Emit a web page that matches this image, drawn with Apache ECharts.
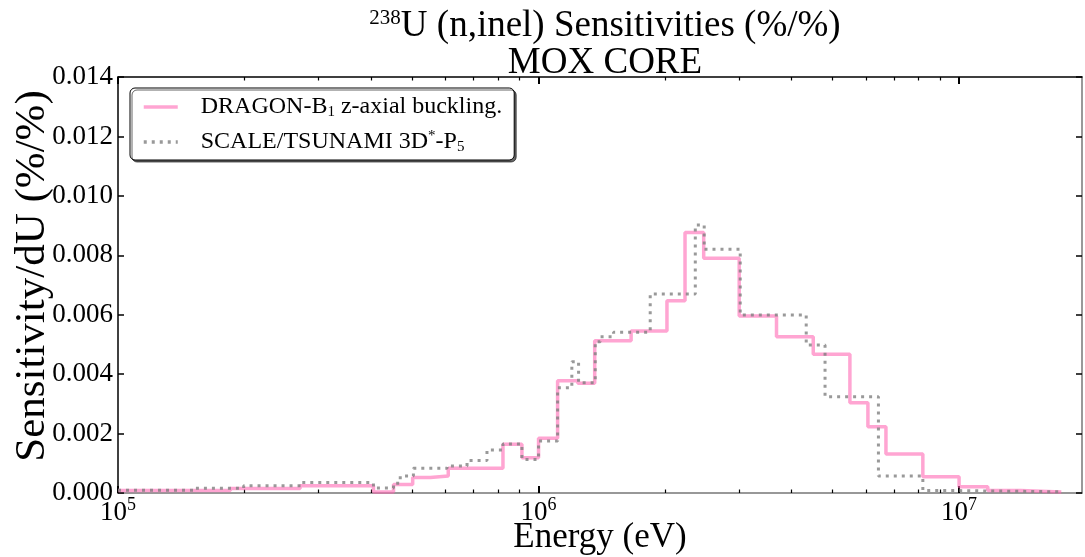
<!DOCTYPE html>
<html>
<head>
<meta charset="utf-8">
<script src="https://cdn.jsdelivr.net/npm/echarts@6/dist/echarts.min.js"></script>
<style>
html,body{margin:0;padding:0;background:#fff;}
#c{width:1085px;height:557px;}
</style>
</head>
<body>
<div id="c"></div>
<script>
// ---- data (energy group edges in eV, sensitivities per unit lethargy) ----
const dragonEdges = [1e5, 1.85e5, 2.71e5, 4.05e5, 4.52e5, 5.02e5, 5.53e5, 6.1e5, 8.23e5, 9.13e5,
  1.0e6, 1.11e6, 1.24e6, 1.36e6, 1.66e6, 2.02e6, 2.23e6, 2.47e6, 3.0e6, 3.68e6,
  4.5e6, 5.5e6, 6.07e6, 6.7e6, 8.2e6, 1.0e7, 1.17e7, 1.4e7, 1.75e7];
const dragonValues = [0.00008, 0.00015, 0.00024, 0.00003, 0.00029, 0.00052, 0.00057, 0.00083, 0.00164, 0.00119,
  0.00184, 0.00378, 0.00369, 0.00512, 0.00545, 0.00647, 0.00877, 0.0079, 0.00596, 0.00526,
  0.00467, 0.00304, 0.00223, 0.00131, 0.00055, 0.00021, 0.00008, 0.00003];

const scaleEdges = [1e5, 1.51e5, 1.99e5, 2.74e5, 4.05e5, 4.52e5, 4.69e5, 5.04e5, 6.06e5, 6.76e5,
  7.54e5, 8.23e5, 9.13e5, 1.0e6, 1.11e6, 1.2e6, 1.245e6, 1.364e6, 1.402e6, 1.508e6,
  1.843e6, 2.359e6, 2.477e6, 3.017e6, 4.33e6, 4.8e6, 6.43e6, 8.2e6, 1.0e7, 1.75e7];
const scaleValues = [0.00009, 0.00016, 0.00024, 0.00035, 0.00017, 0.00033, 0.00057, 0.00083, 0.00091, 0.00109,
  0.00145, 0.00165, 0.00113, 0.00175, 0.00354, 0.00442, 0.00371, 0.00509, 0.00526, 0.00541,
  0.0067, 0.00902, 0.0082, 0.00599, 0.00498, 0.00324, 0.00057, 0.00008, 0.00004];

const seriesNames = ['DRAGON-B1 z-axial buckling.', 'SCALE/TSUNAMI 3D*-P5'];
const xMajorTicks = [1e5, 1e6, 1e7];
const xMinorTicks = [2e5,3e5,4e5,5e5,6e5,7e5,8e5,9e5,2e6,3e6,4e6,5e6,6e6,7e6,8e6,9e6];
const xMin = 1e5, xMax = 1.96e7;
const yMin = 0, yMax = 0.014, yStep = 0.002;

function stepPoints(edges, vals) {
  const pts = vals.map((v, i) => [edges[i], v]);
  pts.push([edges[edges.length - 1], vals[vals.length - 1]]);
  return pts;
}

const FONT = '"Liberation Serif", "DejaVu Serif", serif';

function xAxisBase(pos, major, showLine, lineColor) {
  return {
    type: 'log', logBase: 10, min: xMin, max: xMax, position: pos,
    gridIndex: 0,
    axisLine: { show: showLine, onZero: false, lineStyle: { color: lineColor, width: 1.5 } },
    axisTick: {
      show: true, inside: true,
      length: major ? 7 : 3.5,
      lineStyle: { color: '#000', width: major ? 2 : 1.2 },
      customValues: major ? xMajorTicks : xMinorTicks
    },
    axisLabel: { show: false },
    splitLine: { show: false },
    minorTick: { show: false }
  };
}

const chart = echarts.init(document.getElementById('c'), null, { renderer: 'canvas' });

const bottomMajor = xAxisBase('bottom', true, true, '#777');
bottomMajor.axisLabel = {
  show: true,
  customValues: xMajorTicks,
  margin: 3,
  formatter: v => '{b|10}{s|' + Math.round(Math.log10(v)) + '}',
  rich: {
    b: { fontFamily: FONT, fontSize: 27, color: '#000', verticalAlign: 'bottom', lineHeight: 30 },
    s: { fontFamily: FONT, fontSize: 18, color: '#000', verticalAlign: 'top', lineHeight: 30, padding: [0, 0, 10, 0] }
  }
};
bottomMajor.name = 'Energy (eV)';
bottomMajor.nameLocation = 'middle';
bottomMajor.nameGap = 27;
bottomMajor.nameMoveOverlap = false;
bottomMajor.nameTextStyle = { fontFamily: FONT, fontSize: 35, color: '#000', verticalAlign: 'top' };

const option = {
  animation: false,
  backgroundColor: '#fff',
  title: {
    text: '{sup|238}{t|U (n,inel) Sensitivities (%/%)}\n{t|MOX CORE}',
    left: 600, top: 3, textAlign: 'center',
    textStyle: {
      fontWeight: 'normal',
      rich: {
        t: { fontFamily: FONT, fontSize: 37, fontWeight: 'normal', color: '#000', lineHeight: 37 },
        sup: { fontFamily: FONT, fontSize: 21, fontWeight: 'normal', color: '#000', verticalAlign: 'top', lineHeight: 37, padding: [0, 0, 12, 0] }
      }
    }
  },
  legend: {
    orient: 'vertical', left: 130, top: 88,
    padding: [7, 12, 5, 12],
    itemGap: 9,
    itemWidth: 34, itemHeight: 14,
    backgroundColor: '#fff',
    borderColor: '#000', borderWidth: 1, borderRadius: 5,
    shadowColor: 'rgba(0,0,0,0.6)', shadowOffsetX: 2, shadowOffsetY: 2, shadowBlur: 0,
    itemStyle: { opacity: 0 },
    lineStyle: { width: 3.5 },
    data: seriesNames,
    formatter: function (name) {
      if (name === seriesNames[0]) return '{g|}{t|DRAGON-B}{sub|1}{t| z-axial buckling.}';
      return '{g|}{t|SCALE/TSUNAMI 3D}{sup|*}{t|-P}{sub|5}';
    },
    textStyle: {
      rich: {
        g: { width: 18 },
        t: { fontFamily: FONT, fontSize: 24, color: '#000', lineHeight: 26 },
        sub: { fontFamily: FONT, fontSize: 15, color: '#000', lineHeight: 26, verticalAlign: 'bottom', padding: [7, 0, 0, 0] },
        sup: { fontFamily: FONT, fontSize: 15, color: '#000', lineHeight: 26, verticalAlign: 'top', padding: [0, 0, 9, 0] }
      }
    }
  },
  grid: { left: 118, right: 3, top: 77, bottom: 64, containLabel: false, outerBoundsMode: 'none' },
  xAxis: [
    bottomMajor,
    xAxisBase('bottom', false, false, '#777'),
    xAxisBase('top', true, true, '#000'),
    xAxisBase('top', false, false, '#000')
  ],
  yAxis: [
    {
      type: 'value', min: yMin, max: yMax, interval: yStep, position: 'left',
      axisLine: { show: true, lineStyle: { color: '#000', width: 1.5 } },
      axisTick: { show: true, inside: true, length: 6, lineStyle: { color: '#000', width: 1.5 } },
      axisLabel: { margin: 5, formatter: v => v.toFixed(3), fontFamily: FONT, fontSize: 27, color: '#000' },
      splitLine: { show: false },
      name: 'Sensitivity/dU (%/%)', nameLocation: 'middle', nameRotate: 90, nameGap: 64,
      nameMoveOverlap: false,
      nameTextStyle: { fontFamily: FONT, fontSize: 43, color: '#000', padding: [0, 0, 0, 18] }
    },
    {
      type: 'value', min: yMin, max: yMax, interval: yStep, position: 'right',
      axisLine: { show: true, lineStyle: { color: '#777', width: 1.5 } },
      axisTick: { show: true, inside: true, length: 6, lineStyle: { color: '#000', width: 1.5 } },
      axisLabel: { show: false },
      splitLine: { show: false }
    }
  ],
  series: [
    {
      name: seriesNames[0], type: 'line', step: 'end',
      xAxisIndex: 0, yAxisIndex: 0,
      symbol: 'none', data: stepPoints(dragonEdges, dragonValues),
      lineStyle: { color: 'rgba(255,105,180,0.6)', width: 3.5 },
      itemStyle: { color: 'rgba(255,105,180,0.6)' }
    },
    {
      name: seriesNames[1], type: 'line', step: 'end',
      xAxisIndex: 0, yAxisIndex: 0,
      symbol: 'none', data: stepPoints(scaleEdges, scaleValues),
      lineStyle: { color: 'rgba(128,128,128,0.8)', width: 3, type: [3, 5], cap: 'butt' },
      itemStyle: { color: 'rgba(128,128,128,0.8)' }
    }
  ]
};
chart.setOption(option);
</script>
</body>
</html>
